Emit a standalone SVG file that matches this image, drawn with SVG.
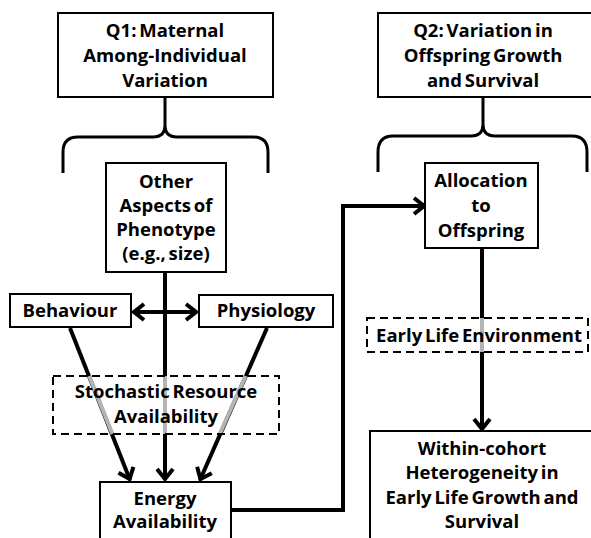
<svg xmlns="http://www.w3.org/2000/svg" width="591" height="538" viewBox="0 0 591 538">
<defs>
<style>
.box{fill:#fff;stroke:#000;stroke-width:2}
.dash{fill:none;stroke:#000;stroke-width:2;stroke-dasharray:8 5}
.t{font-family:"Open Sans","Liberation Sans",sans-serif;font-weight:700;font-size:18.5px;fill:#000;text-anchor:middle;word-spacing:-2px}
.ln{fill:none;stroke:#000;stroke-width:4}
.gr{fill:none;stroke:#b4b4b4;stroke-width:4}
.br{fill:none;stroke:#000;stroke-width:3}
</style>
<marker id="ah" viewBox="-14 -10 16 20" refX="0" refY="0" markerWidth="16" markerHeight="20" markerUnits="userSpaceOnUse" orient="auto-start-reverse">
<path d="M-11,-8 L-1,0 L-11,8" fill="none" stroke="#000" stroke-width="4"/>
</marker>
</defs>
<rect width="591" height="538" fill="#fff"/>

<g id="connectors">
<path class="br" d="M63,173 L63,152 Q63,137 78,137 L153,137 Q165,137 165,125 L165,97 M165,125 Q165,137 177,137 L253,137 Q268,137 268,152 L268,173"/>
<path class="br" d="M378,172 L378,152 Q378,136 393,136 L471,136 Q483,136 483,124 L483,97 M483,124 Q483,136 495,136 L572,136 Q587,136 587,152 L587,172"/>
<line class="ln" x1="165" y1="272" x2="165" y2="480" marker-end="url(#ah)"/>
<line class="ln" x1="70" y1="328" x2="130" y2="480" marker-end="url(#ah)"/>
<line class="ln" x1="267" y1="328" x2="200" y2="480" marker-end="url(#ah)"/>
<line class="ln" x1="133" y1="312" x2="197" y2="312" marker-start="url(#ah)" marker-end="url(#ah)"/>
<path class="ln" d="M231,510 L343,510 L343,206 L425,206" marker-end="url(#ah)"/>
<line class="ln" x1="482" y1="248" x2="482" y2="430" marker-end="url(#ah)"/>
</g>

<g id="q1"><rect class="box" x="58" y="13" width="215" height="84"/>
<text class="t" x="165" y="37">Q1: Maternal</text>
<text class="t" x="165" y="62">Among-Individual</text>
<text class="t" x="165" y="87">Variation</text></g>

<g id="q2"><rect class="box" x="378" y="13" width="220" height="84"/>
<text class="t" x="483" y="37">Q2: Variation in</text>
<text class="t" x="483" y="62">Offspring Growth</text>
<text class="t" x="483" y="87">and Survival</text></g>

<g id="other"><rect class="box" x="106" y="163" width="120" height="109"/>
<text class="t" x="166" y="188">Other</text>
<text class="t" x="166" y="212">Aspects of</text>
<text class="t" x="166" y="236">Phenotype</text>
<text class="t" x="166" y="260">(e.g., size)</text></g>

<g id="alloc"><rect class="box" x="425" y="163" width="113" height="85"/>
<text class="t" x="481" y="187">Allocation</text>
<text class="t" x="481" y="212">to</text>
<text class="t" x="481" y="237">Offspring</text></g>

<g id="behaviour"><rect class="box" x="10" y="294" width="121" height="33"/>
<text class="t" x="70" y="317">Behaviour</text></g>

<g id="physiology"><rect class="box" x="199" y="295" width="134" height="32"/>
<text class="t" x="266" y="317">Physiology</text></g>

<g id="stochastic">
<path class="gr" d="M89.2,376 L112.4,434 M165,376 L165,434 M245.6,376 L219.7,434"/>
<rect class="dash" x="53" y="376" width="226" height="58"/>
<text class="t" x="166" y="398">Stochastic Resource</text>
<text class="t" x="166" y="423">Availability</text></g>

<g id="early">
<line class="gr" x1="482" y1="318" x2="482" y2="352"/>
<rect class="dash" x="367" y="318" width="221" height="34"/>
<text class="t" x="479" y="342">Early Life Environment</text></g>

<g id="energy"><rect class="box" x="100" y="482" width="131" height="70"/>
<text class="t" x="165" y="505">Energy</text>
<text class="t" x="165" y="528">Availability</text></g>

<g id="within"><rect class="box" x="370" y="431" width="230" height="120"/>
<text class="t" x="482" y="455">Within-cohort</text>
<text class="t" x="482" y="479">Heterogeneity in</text>
<text class="t" x="482" y="504">Early Life Growth and</text>
<text class="t" x="482" y="528">Survival</text></g>
</svg>
